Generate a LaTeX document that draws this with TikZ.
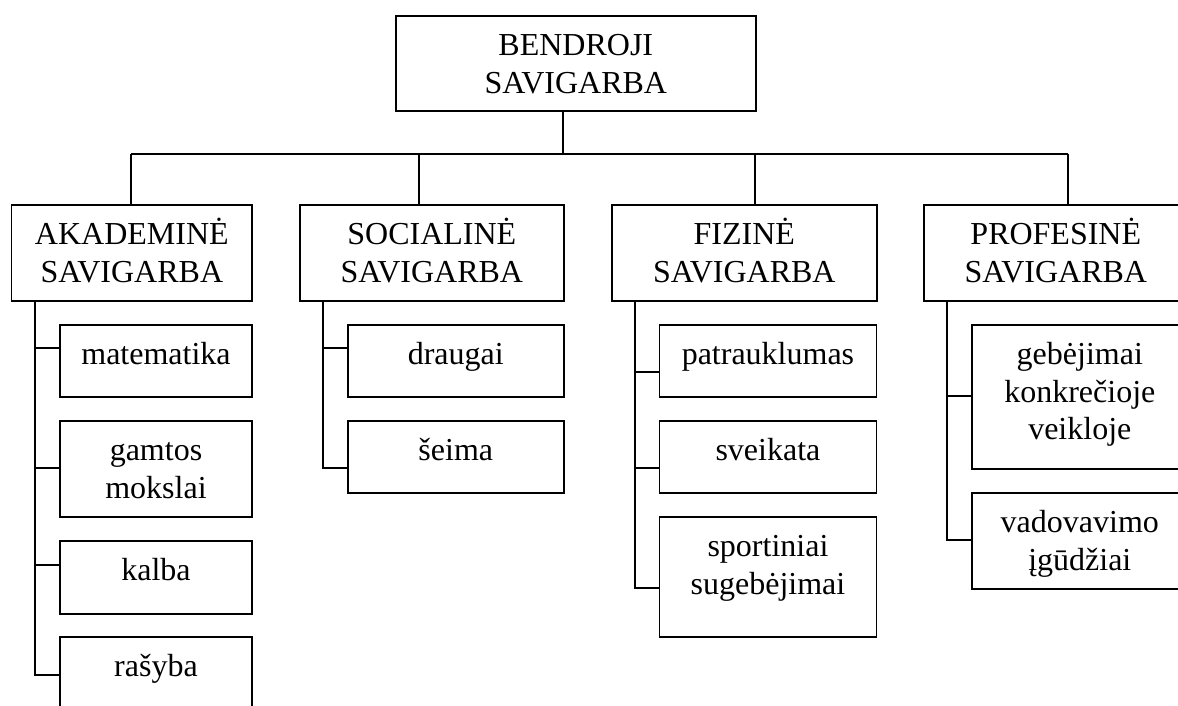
\documentclass[tikz,border=0pt]{standalone}
\usepackage{fontspec}
\setmainfont{Liberation Serif}
\newcommand{\bxtext}[3]{\parbox[c][#2pt][t]{#1pt}{\centering\rule{0pt}{40pt}#3}}
\begin{document}
\begin{tikzpicture}[x=1pt,y=-1pt,
  box/.style={draw,line width=1.6pt,inner sep=0pt,anchor=north west,
    font=\fontsize{32}{37.5}\selectfont},
  conn/.style={line width=1.6pt}]
\useasboundingbox (0,0) rectangle (1178,705);
\clip (0,0) rectangle (1178,705);
% top
\node[box] (top) at (395,15) {\bxtext{360}{95}{BENDROJI\\SAVIGARBA}};
% second row
\node[box] (akad) at (10.7,204) {\bxtext{240.7}{96}{AKADEMINĖ\\SAVIGARBA}};
\node[box] (soc) at (299,204) {\bxtext{264}{96}{SOCIALINĖ\\SAVIGARBA}};
\node[box] (fiz) at (611,204) {\bxtext{265}{96}{FIZINĖ\\SAVIGARBA}};
\node[box] (prof) at (923,204) {\bxtext{264}{96}{PROFESINĖ\\SAVIGARBA}};
% akademine children
\node[box] (mat) at (59,324) {\bxtext{192.4}{72}{matematika}};
\node[box] (gam) at (59,420) {\bxtext{192.4}{96}{gamtos\\mokslai}};
\node[box] (kal) at (59,540) {\bxtext{192.4}{73}{kalba}};
\node[box] (ras) at (59,636) {\bxtext{192.4}{78}{rašyba}};
% sociali children
\node[box] (dra) at (347,324) {\bxtext{216}{72}{draugai}};
\node[box] (sei) at (347,420) {\bxtext{216}{72}{šeima}};
% fizine children
\node[box] (pat) at (658.6,324) {\bxtext{217.1}{72}{patrauklumas}};
\node[box] (sve) at (658.6,420) {\bxtext{217.1}{72}{sveikata}};
\node[box] (spo) at (658.6,516) {\bxtext{217.1}{120}{sportiniai\\sugebėjimai}};
% profesine children
\node[box] (geb) at (971,324) {\bxtext{216}{144}{gebėjimai\\konkrečioje\\veikloje}};
\node[box] (vad) at (971,492) {\bxtext{216}{96}{vadovavimo\\įgūdžiai}};
% bus
\coordinate (stem) at (563,154);
\coordinate (dA) at (131,154);
\coordinate (dS) at (419,154);
\coordinate (dF) at (755,154);
\coordinate (dP) at (1068,154);
\draw[conn] (stem |- top.south) -- (stem);
\draw[conn] (dA) -- (dP);
\draw[conn] (dA) -- (dA |- akad.north);
\draw[conn] (dS) -- (dS |- soc.north);
\draw[conn] (dF) -- (dF |- fiz.north);
\draw[conn] (dP) -- (dP |- prof.north);
% child connectors
\draw[conn] ([xshift=24pt]akad.south west) |- ([yshift=-24pt]mat.north west);
\draw[conn] ([xshift=24pt]akad.south west) |- ([yshift=-48pt]gam.north west);
\draw[conn] ([xshift=24pt]akad.south west) |- ([yshift=-25pt]kal.north west);
\draw[conn] ([xshift=24pt]akad.south west) |- ([yshift=-39pt]ras.north west);
\draw[conn] ([xshift=24pt]soc.south west) |- ([yshift=-24pt]dra.north west);
\draw[conn] ([xshift=24pt]soc.south west) |- ([yshift=-48pt]sei.north west);
\draw[conn] ([xshift=24pt]fiz.south west) |- ([yshift=-48pt]pat.north west);
\draw[conn] ([xshift=24pt]fiz.south west) |- ([yshift=-48pt]sve.north west);
\draw[conn] ([xshift=24pt]fiz.south west) |- ([yshift=-72pt]spo.north west);
\draw[conn] ([xshift=24pt]prof.south west) |- ([yshift=-72pt]geb.north west);
\draw[conn] ([xshift=24pt]prof.south west) |- ([yshift=-48pt]vad.north west);
\end{tikzpicture}
\end{document}
